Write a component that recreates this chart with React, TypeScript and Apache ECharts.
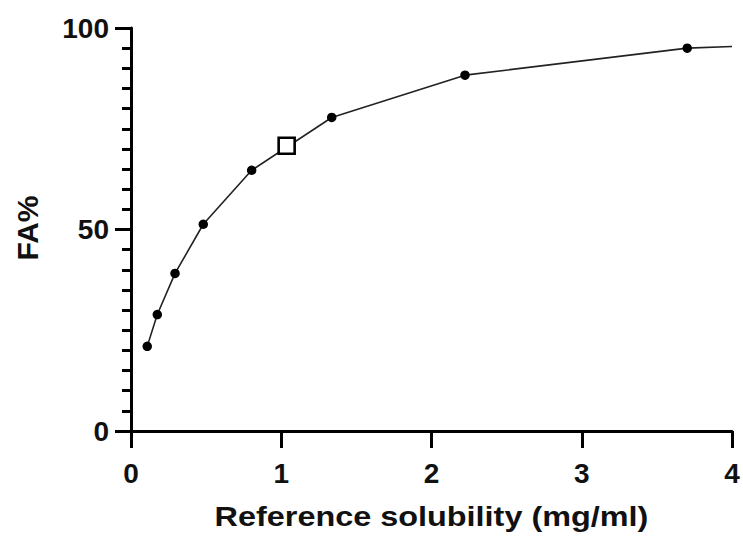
import React, { useEffect, useRef } from "react";
import * as echarts from "echarts";

const xTicks = [0, 1, 2, 3, 4];
const yTicks = [0, 50, 100];
const solubility = [0.108, 0.175, 0.293, 0.481, 0.803, 1.336, 2.223, 3.702];
const faPercent = [21.0, 28.9, 39.1, 51.3, 64.7, 77.8, 88.3, 95.0];
const curveEnd = [4.0, 95.4];
const referencePoint = [1.036, 70.8];
const xTitle = "Reference solubility (mg/ml)";
const yTitle = "FA%";

const FONT = "'Liberation Sans', Arial, Helvetica, sans-serif";

export default function App() {
  const ref = useRef<HTMLDivElement>(null);
  useEffect(() => {
    if (!ref.current) return;
    const chart = echarts.init(ref.current, null, { renderer: "svg" });
    const pts = solubility.map((x, i) => [x, faPercent[i]]);
    const linePts = [...pts, curveEnd];
    chart.setOption({
      animation: false,
      backgroundColor: "#ffffff",
      grid: { left: 131, right: 11, top: 28, bottom: 106, containLabel: false },
      xAxis: {
        type: "value",
        min: xTicks[0],
        max: xTicks[xTicks.length - 1],
        interval: 1,
        axisLine: { show: true, onZero: false, lineStyle: { color: "#000", width: 3 } },
        axisTick: { show: true, length: 17, lineStyle: { color: "#000", width: 3 } },
        axisLabel: {
          margin: 28,
          fontSize: 28,
          fontWeight: "bold",
          fontFamily: FONT,
          color: "#111",
        },
        splitLine: { show: false },
      },
      yAxis: {
        type: "value",
        min: yTicks[0],
        max: yTicks[yTicks.length - 1],
        interval: 50,
        axisLine: { show: true, onZero: false, lineStyle: { color: "#000", width: 3 } },
        axisTick: { show: true, length: 16, lineStyle: { color: "#000", width: 3 } },
        minorTick: { show: true, splitNumber: 10, length: 9, lineStyle: { color: "#000", width: 3 } },
        axisLabel: {
          margin: 22,
          fontSize: 28,
          fontWeight: "bold",
          fontFamily: FONT,
          color: "#111",
        },
        splitLine: { show: false },
        minorSplitLine: { show: false },
      },
      series: [
        {
          type: "line",
          data: linePts,
          showSymbol: false,
          symbol: "none",
          lineStyle: { color: "#222", width: 1.6 },
          z: 2,
        },
        {
          type: "scatter",
          data: pts,
          symbol: "circle",
          symbolSize: 9.5,
          itemStyle: { color: "#000", opacity: 1 },
          z: 3,
        },
        {
          type: "scatter",
          data: [referencePoint],
          symbol: "rect",
          symbolSize: 16,
          itemStyle: { color: "#fff", borderColor: "#000", borderWidth: 2.6, opacity: 1 },
          z: 4,
        },
      ],
      graphic: [
        {
          type: "text",
          x: 431.5,
          y: 516,
          scaleX: 1.2,
          style: {
            text: xTitle,
            font: `bold 27px ${FONT}`,
            fill: "#111",
            textAlign: "center",
            textVerticalAlign: "middle",
          },
        },
        {
          type: "text",
          x: 27,
          y: 228,
          rotation: Math.PI / 2,
          style: {
            text: yTitle,
            font: `bold 30px ${FONT}`,
            fill: "#111",
            textAlign: "center",
            textVerticalAlign: "middle",
          },
        },
      ],
    });
    return () => chart.dispose();
  }, []);
  return (
    <div
      ref={ref}
      style={{ width: 743, height: 537, position: "absolute", left: 0, top: 0, background: "#fff" }}
    />
  );
}
